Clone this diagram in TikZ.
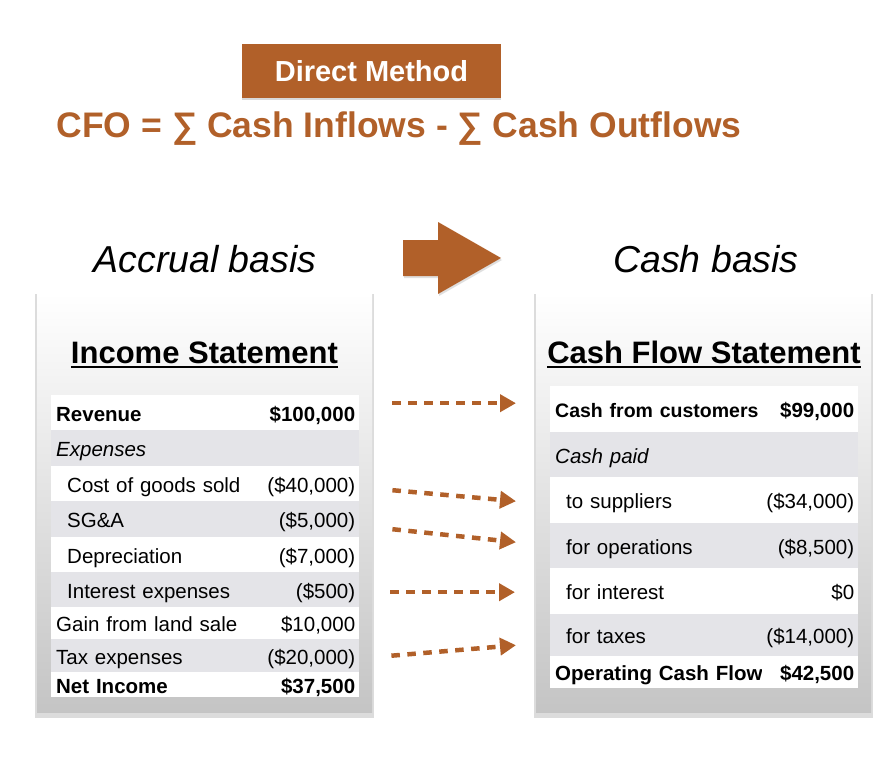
\documentclass[tikz,border=0pt]{standalone}
\usepackage{fontspec}
\setmainfont{Liberation Sans}
\usepackage{tikz}
\usetikzlibrary{positioning, matrix, arrows.meta, shadows}
\usepackage{xcolor}
\definecolor{rust}{RGB}{177,96,41}
\definecolor{rowgray}{RGB}{228,228,232}
\newcommand{\tabfont}{\fontsize{20.5}{24}\selectfont}

\begin{document}
\begin{tikzpicture}[
    x=1pt, y=-1pt,
    card/.style={rectangle, inner sep=0pt, anchor=north west,
      minimum width=335pt, minimum height=419pt,
      top color=white, bottom color=black!23,
      drop shadow={shadow xshift=0pt, shadow yshift=-3pt, shadow scale=1.012, opacity=.28}},
    tbl/.style={matrix of nodes, anchor=north west, inner sep=0pt,
      row sep=0pt, column sep=0pt,
      nodes={fill=white, anchor=center, inner ysep=0pt, inner xsep=5pt,
        text height=17pt, text depth=0pt, font=\tabfont}},
    sheettitle/.style={anchor=base, inner sep=0pt,
      font=\bfseries\fontsize{31}{34}\selectfont},
    uline/.style={line width=2.5pt},
    basis/.style={anchor=base, inner sep=0pt,
      font=\itshape\fontsize{37.5}{40}\selectfont},
    flow/.style={draw=rust, line width=4.5pt, dash pattern=on 8.5pt off 7.5pt,
      -{Triangle[length=16pt, width=17pt]}},
  ]
  \useasboundingbox (0,0) rectangle (886,776);

  % header
  \node (dm) [fill=rust, text=white, minimum width=259pt, minimum height=54pt,
    font=\bfseries\fontsize{29}{32}\selectfont,
    drop shadow={shadow xshift=0pt, shadow yshift=-2pt, opacity=.3}]
    at (371.5,71) {Direct Method};
  \node (cfo) [anchor=base, text=rust, inner sep=0pt,
    font=\bfseries\fontsize{35.5}{38}\selectfont]
    at (399,137) {CFO = ∑ Cash Inflows - ∑ Cash Outflows};

  \node (accrual) [basis] at (205,272) {Accrual basis};
  \node (cash) [basis] at (706,272) {Cash basis};
  \fill[rust, drop shadow={shadow xshift=1pt, shadow yshift=-2pt, opacity=.25}]
    (403,240) -- (438,240) -- (438,222) -- (501,258)
    -- (438,294) -- (438,276) -- (403,276) -- cycle;

  % the two sheets
  \node (icard) [card] at (37,293) {};
  \node (ccard) [card] at (536,293) {};

  \node (ititle) [sheettitle] at (204.5,363) {Income Statement};
  \draw[uline] ([yshift=-4pt]ititle.base west) -- ([yshift=-4pt]ititle.base east);
  \node (ctitle) [sheettitle] at (704,363) {Cash Flow Statement};
  \draw[uline] ([yshift=-4pt]ctitle.base west) -- ([yshift=-4pt]ctitle.base east);

  \matrix (ist) [
    tbl,
    column 1/.style={nodes={text width=201pt, align=left}},
    column 2/.style={nodes={text width=89pt, align=right, inner xsep=4pt}},
    row 1/.style={nodes={minimum height=35pt}},
    row 2/.style={nodes={fill=rowgray, minimum height=36pt}},
    row 3/.style={nodes={minimum height=35pt}},
    row 4/.style={nodes={fill=rowgray, minimum height=36pt}},
    row 5/.style={nodes={minimum height=35pt}},
    row 6/.style={nodes={fill=rowgray, minimum height=35pt}},
    row 7/.style={nodes={minimum height=32pt}},
    row 8/.style={nodes={fill=rowgray, minimum height=33pt}},
    row 9/.style={nodes={minimum height=25pt}},
  ] at (51,395) {
    \textbf{Revenue} & \textbf{\$100,000} \\
    \textit{Expenses} & \mbox{} \\
    \hspace*{11pt}Cost of goods sold & (\$40,000) \\
    \hspace*{11pt}SG\&A & (\$5,000) \\
    \hspace*{11pt}Depreciation & (\$7,000) \\
    \hspace*{11pt}Interest expenses & (\$500) \\
    \mbox{Gain from land sale} & \$10,000 \\
    Tax expenses & (\$20,000) \\
    \textbf{Net Income} & \textbf{\$37,500} \\
  };

  \matrix (cfs) [
    tbl,
    column 1/.style={nodes={text width=202pt, align=left}},
    column 2/.style={nodes={text width=88pt, align=right, inner xsep=4pt}},
    row 1/.style={nodes={minimum height=46pt}},
    row 2/.style={nodes={fill=rowgray, minimum height=45pt}},
    row 3/.style={nodes={minimum height=46pt}},
    row 4/.style={nodes={fill=rowgray, minimum height=45pt}},
    row 5/.style={nodes={minimum height=46pt}},
    row 6/.style={nodes={fill=rowgray, minimum height=42pt}},
    row 7/.style={nodes={minimum height=32pt}},
  ] at (550,386) {
    \mbox{\fontsize{19.5}{24}\selectfont\bfseries Cash from customers} & \textbf{\$99,000} \\
    \textit{Cash paid} & \mbox{} \\
    \hspace*{11pt}to suppliers & (\$34,000) \\
    \hspace*{11pt}for operations & (\$8,500) \\
    \hspace*{11pt}for interest & \$0 \\
    \hspace*{11pt}for taxes & (\$14,000) \\
    \mbox{\textbf{Operating Cash Flow}} & \textbf{\$42,500} \\
  };

  % accrual -> cash
  \draw[flow] ([xshift=33pt, yshift=9.5pt]ist-1-2.east) -- ([xshift=-34pt, yshift=6pt]cfs-1-1.west);
  \draw[flow] ([xshift=33pt, yshift=-6.5pt]ist-3-2.east) -- ([xshift=-34pt, yshift=-1pt]cfs-3-1.west);
  \draw[flow] ([xshift=33pt, yshift=-10pt]ist-4-2.east) -- ([xshift=-34pt, yshift=3.5pt]cfs-4-1.west);
  \draw[flow] ([xshift=31pt, yshift=-2.5pt]ist-6-2.east) -- ([xshift=-35pt, yshift=-1pt]cfs-5-1.west);
  \draw[flow] ([xshift=32pt]ist-8-2.east) -- ([xshift=-34pt, yshift=-10pt]cfs-6-1.west);
\end{tikzpicture}
\end{document}
